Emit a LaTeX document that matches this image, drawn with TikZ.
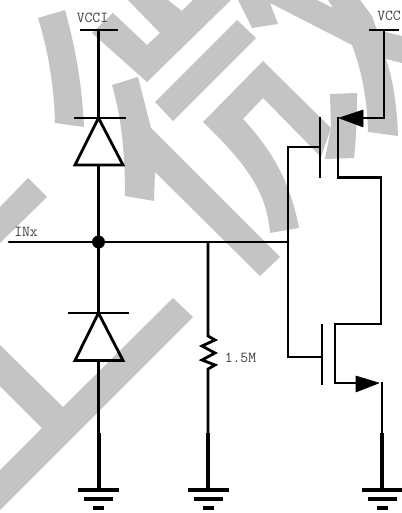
\documentclass[tikz,border=0pt]{standalone}
\usepackage{fontspec}
\definecolor{wm}{HTML}{C4C4C4}
\definecolor{lab}{HTML}{404040}
\tikzset{
  x=0.75pt,y=-0.75pt,
  wire/.style={line width=2.1pt,line join=miter,line cap=butt},
  heavy/.style={line width=3pt},
  wmark/.style={fill=wm,draw=none},
  tiphead/.style={fill=black,draw=black,line width=0.4pt,line join=round},
  gbar/.style={line width=3pt},
  lbl/.style={text=lab,inner sep=0pt,anchor=west,font=\ttfamily\fontsize{11.4}{13}\selectfont}
}
\begin{document}
\begin{tikzpicture}
\useasboundingbox (0,0) rectangle (402,513);
\clip (0,0) rectangle (402,513);
\fill[white] (0,0) rectangle (402,513);
% watermark
\fill[wmark] (38,18) -- (65,10) .. controls (76,50) and (82,85) .. (84,127) -- (55,123) .. controls (54,85) and (48,50) .. (38,18) -- cycle;
\fill[wmark] (113,13) -- (147,45) -- (160,33) -- (128,0) -- (168,0) -- (182,11) -- (193,0) -- (231,0) -- (147,82) -- (92,33) -- cycle;
\fill[wmark] (237,20) -- (256,38) -- (173,121) -- (155,102) -- cycle;
\fill[wmark] (238,0) -- (252,28) -- (278,24) -- (270,3) -- (352,45) .. controls (361,70) and (367,95) .. (368,132) -- (398,136) .. controls (397,105) and (393,80) .. (386,59) -- (402,63) -- (402,36) -- (377,30) -- (372,16) -- (360,0) -- (328,0) -- (333,8) -- (317,0) -- cycle;
\fill[wmark] (263,61) -- (331,128) -- (321,157) -- (263,98) -- (243,119) .. controls (270,148) and (290,180) .. (299,228) -- (270,233) .. controls (267,195) and (250,167) .. (203,122) -- cycle;
\fill[wmark] (330,94) -- (357,93) .. controls (357,120) and (356,140) .. (354,158) -- (325,159) -- (331,128) -- cycle;
\fill[wmark] (112,85) -- (138,77) -- (151,128) -- (280,257) -- (260,276) -- (155,172) -- (154,201) -- (125,196) .. controls (125,155) and (122,120) .. (112,85) -- cycle;
\fill[wmark] (173,298) -- (193,317) -- (0,510) -- (0,470) -- (42,428) -- (0,386) -- (0,345) -- (63,407) -- cycle;
\fill[wmark] (28,178) -- (47,197) -- (0,243) -- (0,207) -- cycle;
% coordinates
\coordinate (vcciL) at (80,30); \coordinate (vcciR) at (118,30); \coordinate (vcciM) at (98.5,30);
\coordinate (d1k) at (98.5,118); \coordinate (d1kL) at (74,118); \coordinate (d1kR) at (126,118);
\coordinate (d1bL) at (75,165); \coordinate (d1bR) at (123,165); \coordinate (d1b) at (98.5,165);
\coordinate (j) at (98.5,242); \coordinate (inL) at (9,242); \coordinate (jr) at (208,242); \coordinate (g) at (288,242);
\coordinate (d2k) at (98.5,313); \coordinate (d2kL) at (68,313); \coordinate (d2kR) at (129,313);
\coordinate (d2bL) at (75,360.5); \coordinate (d2bR) at (123,360.5); \coordinate (d2b) at (98.5,360.5);
\coordinate (a1) at (98.5,433); \coordinate (a2) at (98.5,490);
\coordinate (b1) at (208,433); \coordinate (b2) at (208,490);
\coordinate (c1) at (382,433); \coordinate (c2) at (382,490);
% wires
\draw[wire] (vcciL) -- (vcciR);
\draw[wire] (vcciM) -- (d1k);
\draw[wire] (d1kL) -- (d1kR);
\draw[wire,line join=miter] (d1k) -- (d1bR) -- (d1bL) -- cycle;
\draw[wire] (d1b) -- (j);
\draw[wire,line cap=round] (inL) -- (g);
\fill (j) circle (6.5);
\draw[wire] (j) -- (d2k);
\draw[wire] (d2kL) -- (d2kR);
\draw[wire,line join=miter] (d2k) -- (d2bR) -- (d2bL) -- cycle;
\draw[wire] (d2b) -- (a1);
\draw[heavy] (a1) -- (a2);
% resistor
\draw[wire] (jr) -- (208,336) -- (215,340) -- (202,346) -- (215,353) -- (202,360) -- (215,365) -- (208,369) -- (b1);
\draw[heavy] (b1) -- (b2);
% upper FET
\coordinate (vccL) at (369,30); \coordinate (vccR) at (399,30); \coordinate (vccM) at (384,30);
\coordinate (s1) at (384,118); \coordinate (s1t) at (339,118);
\draw[wire] (vccL) -- (vccR);
\draw[wire] (vccM) -- (s1) -- (362,118);
\fill[tiphead] (s1t) -- (363,110) -- (363,127) -- cycle;
\draw[wire] (338,117) -- (338,177.5) -- (381,177.5) -- (381,324) -- (335,324) -- (335,383) -- (358,383);
\fill[tiphead] (379,383) -- (356,376) -- (356,392) -- cycle;
\draw[wire] (320,117) -- (320,178);
\draw[wire] (322,324) -- (322,385);
\draw[wire] (320,147) -- (288,147) -- (288,357) -- (322,357);
\draw[wire] (382,382) -- (c1);
\draw[heavy] (c1) -- (c2);
% grounds
\foreach \p in {98.5,208,382}{
  \draw[gbar] (\p-20.5,490) -- (\p+20.5,490);
  \draw[gbar] (\p-14.5,499) -- (\p+14.5,499);
  \draw[gbar,line width=3.2pt] (\p-5.5,508) -- (\p+5.5,508);
}
% labels
\node[lbl] (tvcci) at (76.5,18) {VCCI};
\node[lbl] (tvcc) at (377,16) {VCC};
\node[lbl] (tinx) at (14,232) {INx};
\node[lbl] (tres) at (224.5,358) {1.5M};
\end{tikzpicture}
\end{document}
